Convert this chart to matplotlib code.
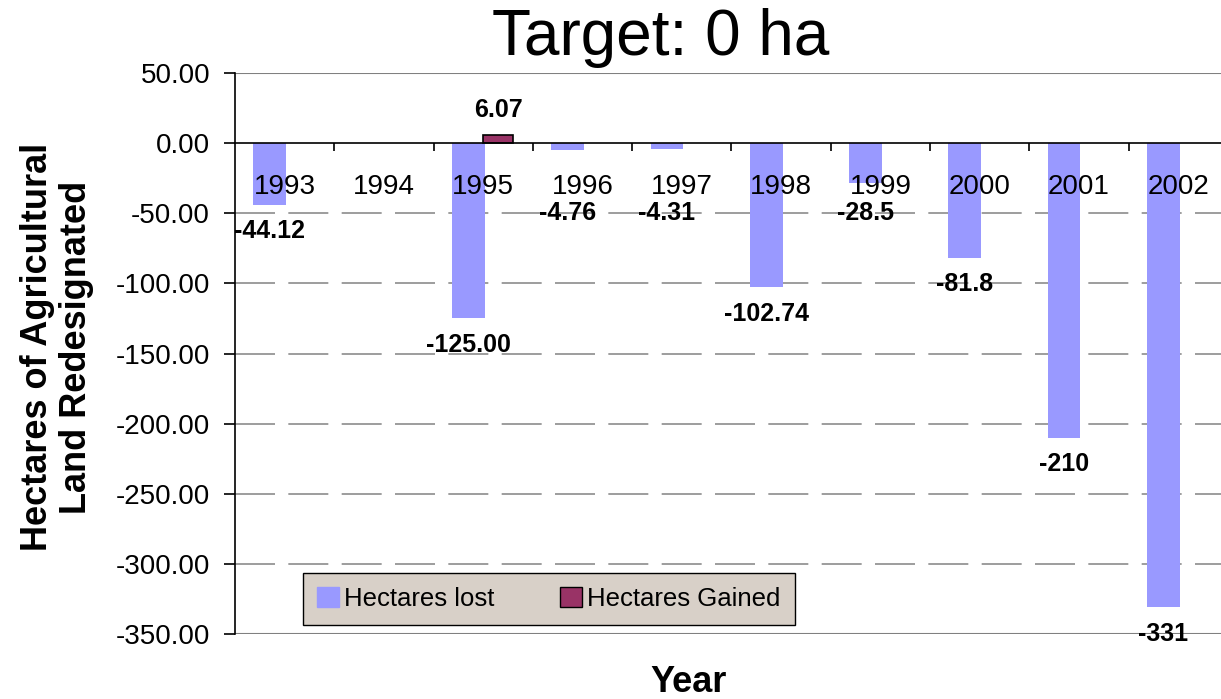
import matplotlib
matplotlib.use("Agg")
from matplotlib import pyplot as plt
from matplotlib.patches import Patch
import numpy as np

plt.rcParams['font.family'] = ['Liberation Sans', 'DejaVu Sans']

years = ["1993", "1994", "1995", "1996", "1997", "1998", "1999", "2000", "2001", "2002"]
hectares_lost = [-44.12, 0.0, -125.00, -4.76, -4.31, -102.74, -28.5, -81.8, -210, -331]
lost_labels = ["-44.12", "", "-125.00", "-4.76", "-4.31", "-102.74", "-28.5", "-81.8", "-210", "-331"]
hectares_gained = [0, 0, 6.07, 0, 0, 0, 0, 0, 0, 0]
gained_labels = ["", "", "6.07", "", "", "", "", "", "", ""]
y_ticks = [50, 0, -50, -100, -150, -200, -250, -300, -350]

W, H = 1221, 699
fig = plt.figure(figsize=(W / 100, H / 100), dpi=100)
ax = fig.add_axes([235 / W, 1 - 634 / H, 986 / W, 561 / H])

x = np.arange(len(years))
bw = 0.33
lost_color = "#9999FF"
gain_color = "#993366"

# dashed grid behind bars, solid gray frame lines top/bottom
for t in y_ticks[2:-1]:
    ax.axhline(t, color="#8c8c8c", lw=1.2, ls=(0, (24, 8)), zorder=0)
ax.axhline(y_ticks[0], color="#808080", lw=1.5, zorder=0)
ax.axhline(y_ticks[-1], color="#808080", lw=1.5, zorder=0)

lost = np.array(hectares_lost)
gained = np.array(hectares_gained)
ax.bar(x - 0.15, lost, width=bw, color=lost_color, zorder=1)
g = gained != 0
ax.bar(x[g] + 0.15, gained[g], width=bw - 0.03, color=gain_color,
       edgecolor="black", linewidth=1.2, zorder=1)

for xi, v, lab in zip(x, hectares_lost, lost_labels):
    if lab:
        ax.annotate(lab, (xi - 0.15, min(v, -31)), xytext=(0, -19), textcoords="offset points",
                    ha="center", va="center", fontsize=18, fontweight="bold", zorder=4)
for xi, v, lab in zip(x, hectares_gained, gained_labels):
    if lab:
        ax.annotate(lab, (xi + 0.15, v), xytext=(0, 18), textcoords="offset points",
                    ha="center", va="center", fontsize=18, fontweight="bold", zorder=4)

ax.set_xlim(-0.5, 9.43)
ax.set_ylim(-350, 50)

# category axis crosses at zero
ax.spines['bottom'].set_position(('data', 0))
ax.spines['bottom'].set_linewidth(1.2)
ax.spines['top'].set_visible(False)
ax.spines['right'].set_visible(False)
ax.spines['left'].set_linewidth(1.2)
ax.set_xticks(x)
ax.set_xticklabels(years, fontsize=20)
ax.set_xticks(x[:-1] + 0.5, minor=True)
ax.tick_params(axis="x", which="major", length=0, pad=22)
ax.tick_params(axis="x", which="minor", length=6, width=1.2, direction="out")

ax.set_yticks(y_ticks)
ax.set_yticklabels([f"{t:.2f}" for t in y_ticks], fontsize=20)
ax.tick_params(axis="y", length=8, width=1.2, direction="out", pad=10)

handles = [Patch(facecolor=lost_color, edgecolor=lost_color, label="Hectares lost"),
           Patch(facecolor=gain_color, edgecolor="black", label="Hectares Gained")]
leg = ax.legend(handles=handles, loc="lower left", bbox_to_anchor=(0.069, 0.016),
                ncol=2, fontsize=18.5, frameon=True, fancybox=False, borderaxespad=0,
                handlelength=0.85, handleheight=0.85, handletextpad=0.2, columnspacing=2.55,
                borderpad=0.55)
leg.get_frame().set_facecolor("#D8D0C8")
leg.get_frame().set_edgecolor("black")
leg.get_frame().set_linewidth(1.0)
leg.get_frame().set_alpha(1)
leg.set_zorder(5)

fig.text(661 / W, 1 - 38 / H, "Target: 0 ha", fontsize=46, ha="center", va="center")
fig.text(689 / W, 1 - 682 / H, "Year", fontsize=26, fontweight="bold", ha="center", va="center")
fig.text(57 / W, 1 - 347 / H, "Hectares of Agricultural\nLand Redesignated", fontsize=26,
         fontweight="bold", rotation=90, ha="center", va="center", linespacing=1.15)

fig.savefig("out.png", dpi=100)
